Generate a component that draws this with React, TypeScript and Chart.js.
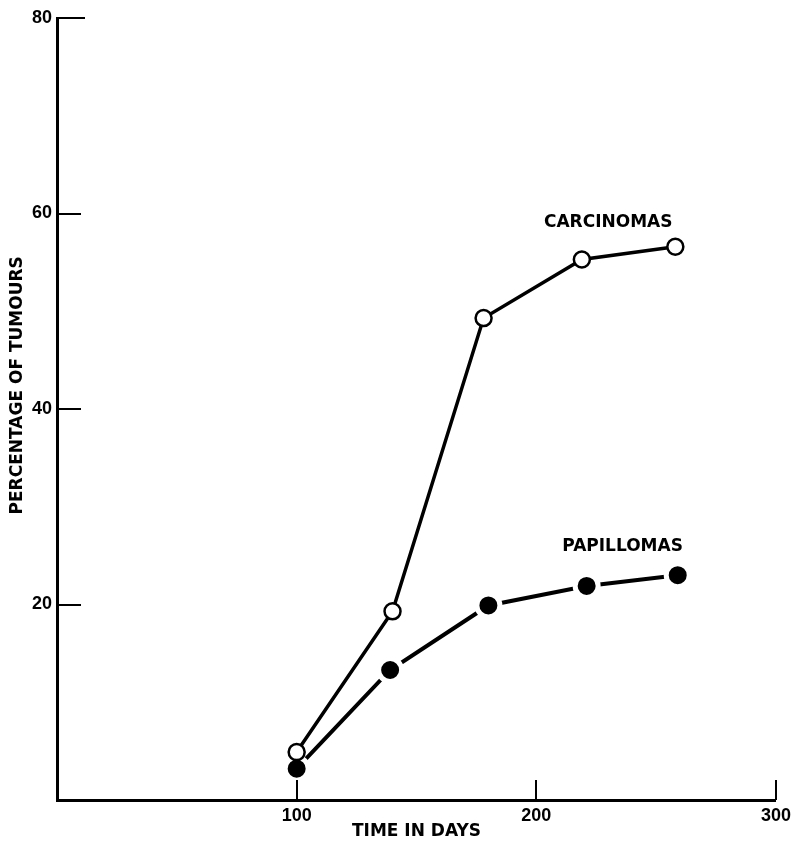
import React, { useEffect, useRef } from 'react';
import { Chart, registerables } from 'chart.js';

Chart.register(...registerables);

// ---- data ----
const carcinomaDays = [100, 140, 178, 219, 258];
const carcinomaPct = [4.9, 19.3, 49.3, 55.3, 56.6];
const papillomaDays = [100, 139, 180, 221, 259];
const papillomaPct = [3.2, 13.3, 19.9, 21.9, 23.0];

const xTickValues = [100, 200, 300];
const yTickValues = [20, 40, 60, 80];

const seriesLabels = [
  { text: 'CARCINOMAS', day: 230, pct: 59.1 },
  { text: 'PAPILLOMAS', day: 236, pct: 25.9 },
];

const xTitle = 'TIME IN DAYS';
const yTitle = '        PERCENTAGE OF TUMOURS';

const FONT = '"DejaVu Sans", sans-serif';
const TICK_FONT = '"Liberation Sans", Arial, sans-serif';

const inwardTicks = {
  id: 'inwardTicks',
  afterDatasetsDraw(chart: any) {
    const { ctx, chartArea, scales } = chart;
    ctx.save();
    ctx.strokeStyle = '#000';
    ctx.lineWidth = 2;
    ctx.beginPath();
    for (const v of yTickValues) {
      const y = Math.round(scales.y.getPixelForValue(v));
      const len = v === 80 ? 28 : 24;
      ctx.moveTo(chartArea.left, y);
      ctx.lineTo(chartArea.left + len, y);
    }
    for (const v of xTickValues) {
      const x = Math.round(scales.x.getPixelForValue(v));
      ctx.moveTo(x, chartArea.bottom);
      ctx.lineTo(x, chartArea.bottom - 20);
    }
    ctx.stroke();
    ctx.restore();
  },
};

const seriesLabelPlugin = {
  id: 'seriesLabels',
  afterDatasetsDraw(chart: any) {
    const { ctx, scales } = chart;
    ctx.save();
    ctx.fillStyle = '#000';
    ctx.font = `bold 17px ${FONT}`;
    ctx.textAlign = 'center';
    ctx.textBaseline = 'middle';
    for (const l of seriesLabels) {
      ctx.fillText(l.text, scales.x.getPixelForValue(l.day), scales.y.getPixelForValue(l.pct));
    }
    ctx.restore();
  },
};

export default function App() {
  const ref = useRef<HTMLCanvasElement>(null);

  useEffect(() => {
    if (!ref.current) return;
    const chart = new Chart(ref.current, {
      type: 'line',
      data: {
        datasets: [
          {
            label: 'Carcinomas',
            data: carcinomaDays.map((d, i) => ({ x: d, y: carcinomaPct[i] })),
            borderColor: '#000',
            borderWidth: 3.5,
            backgroundColor: '#fff',
            pointBackgroundColor: '#fff',
            pointBorderColor: '#000',
            pointBorderWidth: 2.5,
            pointRadius: 8,
            tension: 0,
            fill: false,
          },
          {
            label: 'Papillomas',
            data: papillomaDays.map((d, i) => ({ x: d, y: papillomaPct[i] })),
            borderColor: '#000',
            borderWidth: 4,
            backgroundColor: '#000',
            pointBackgroundColor: '#000',
            pointBorderColor: '#fff',
            pointBorderWidth: 5,
            pointRadius: 11.5,
            tension: 0,
            fill: false,
          },
        ],
      },
      options: {
        responsive: false,
        animation: false,
        events: [],
        layout: { padding: { top: 18, right: 19, left: 0, bottom: 0 } },
        plugins: {
          legend: { display: false },
          tooltip: { enabled: false },
        },
        scales: {
          x: {
            type: 'linear',
            min: 0,
            max: 300,
            afterBuildTicks: (s: any) => {
              s.ticks = xTickValues.map((v) => ({ value: v }));
            },
            afterFit: (s: any) => {
              s.height = 42;
            },
            grid: { display: true, drawOnChartArea: false, drawTicks: false, tickLength: 0 },
            border: { display: true, width: 3, color: '#000' },
            ticks: {
              color: '#000',
              font: { family: TICK_FONT, size: 18, weight: 'bold' },
              padding: 5,
              maxRotation: 0,
              autoSkip: false,
            },
            title: {
              display: true,
              text: xTitle,
              color: '#000',
              font: { family: FONT, size: 17, weight: 'bold' },
              padding: { top: 0, bottom: 0 },
            },
          },
          y: {
            type: 'linear',
            min: 0,
            max: 80,
            afterBuildTicks: (s: any) => {
              s.ticks = yTickValues.map((v) => ({ value: v }));
            },
            afterFit: (s: any) => {
              s.width = 57;
            },
            grid: { display: true, drawOnChartArea: false, drawTicks: false, tickLength: 0 },
            border: { display: true, width: 3, color: '#000' },
            ticks: {
              color: '#000',
              font: { family: TICK_FONT, size: 18, weight: 'bold' },
              padding: 5,
              autoSkip: false,
            },
            title: {
              display: true,
              text: yTitle,
              color: '#000',
              font: { family: FONT, size: 17, weight: 'bold' },
              padding: { top: 7, bottom: 0 },
            },
          },
        },
      },
      plugins: [inwardTicks, seriesLabelPlugin],
    } as any);
    return () => chart.destroy();
  }, []);

  return (
    <div style={{ position: 'fixed', left: 0, top: 0, width: 796, height: 842, background: '#fff' }}>
      <canvas ref={ref} width={796} height={842} />
    </div>
  );
}
